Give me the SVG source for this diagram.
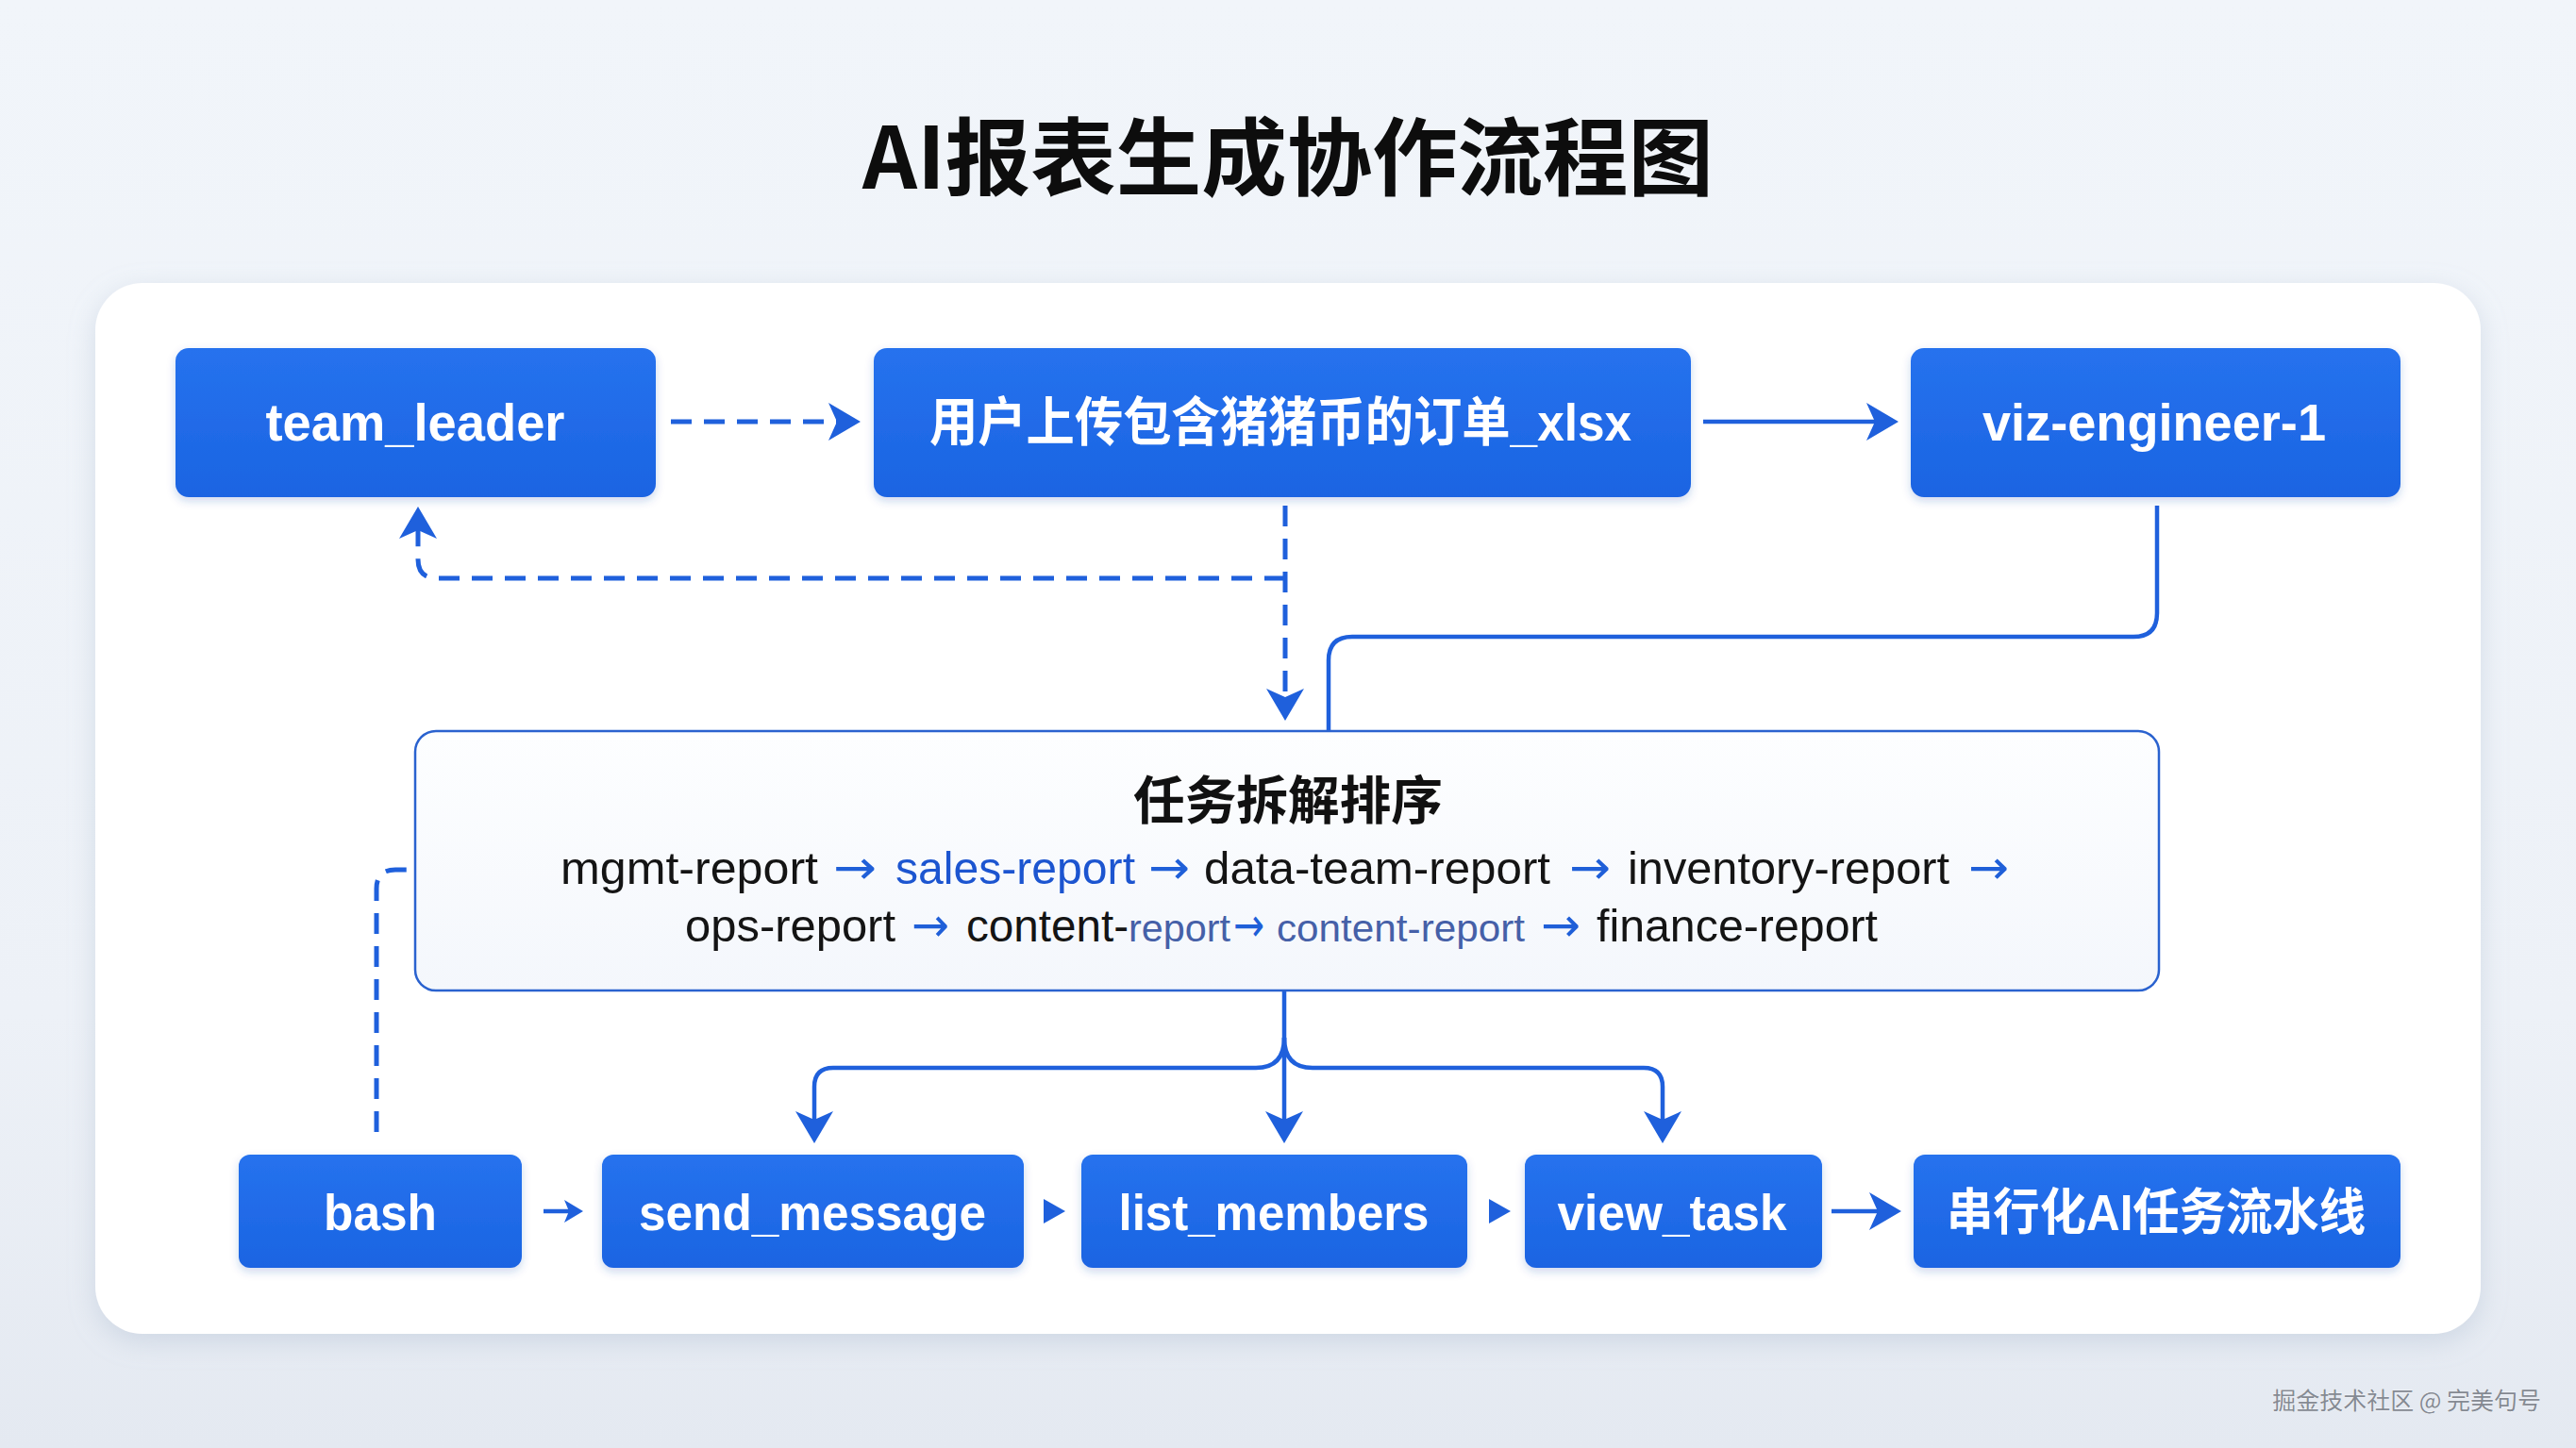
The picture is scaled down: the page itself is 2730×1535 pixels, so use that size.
<svg xmlns="http://www.w3.org/2000/svg" width="2730" height="1535" viewBox="0 0 2730 1535">
<defs>
<linearGradient id="bg" x1="0" y1="0" x2="0" y2="1">
<stop offset="0" stop-color="#f1f5fa"/>
<stop offset="0.7" stop-color="#edf1f7"/>
<stop offset="1" stop-color="#e4e9f1"/>
</linearGradient>
<linearGradient id="blue" x1="0" y1="0" x2="0" y2="1">
<stop offset="0" stop-color="#2672ee"/>
<stop offset="1" stop-color="#1b64e2"/>
</linearGradient>
<linearGradient id="panel" x1="0" y1="0" x2="0" y2="1">
<stop offset="0" stop-color="#fdfeff"/>
<stop offset="1" stop-color="#f4f7fc"/>
</linearGradient>
<filter id="cardShadow" x="-5%" y="-5%" width="110%" height="115%">
<feDropShadow dx="0" dy="8" stdDeviation="14" flood-color="#9fb0c8" flood-opacity="0.35"/>
</filter>
<filter id="boxShadow" x="-10%" y="-10%" width="120%" height="130%">
<feDropShadow dx="0" dy="4" stdDeviation="5" flood-color="#1b4fb0" flood-opacity="0.22"/>
</filter>
<marker id="ah" markerUnits="userSpaceOnUse" viewBox="0 0 34 40" markerWidth="34" markerHeight="40" refX="14" refY="20" orient="auto">
<path d="M0,0 L34,20 L0,40 L9,20 Z" fill="#1f60dc"/>
</marker>
<marker id="ahs" markerUnits="userSpaceOnUse" viewBox="0 0 20 24" markerWidth="20" markerHeight="24" refX="8" refY="12" orient="auto">
<path d="M0,0 L20,12 L0,24 L5,12 Z" fill="#1f60dc"/>
</marker>
<style>
.node rect.b { fill: url(#blue); filter: url(#boxShadow); }
.lbl { font-family: "Liberation Sans", "Noto Sans CJK SC", sans-serif; font-weight: 700; fill: #ffffff; text-anchor: middle; }
.top { font-size: 56px; }
.bot { font-size: 53px; }
.ln { fill: none; stroke: #1f60dc; stroke-width: 4.5; stroke-linejoin: round; }
.dash { stroke-dasharray: 22 13; stroke-width: 5; }
.seq { font-family: "Liberation Sans", "DejaVu Sans", sans-serif; font-size: 48px; fill: #141414; }
.arr { font-family: "DejaVu Sans", sans-serif; font-size: 50px; fill: #1f5fd8; }
.hl { fill: #1c55d0; }
.sm { font-size: 41px; fill: #4560a8; }
</style>
</defs>

<rect x="0" y="0" width="2730" height="1535" fill="url(#bg)"/>

<text x="1365" y="200" text-anchor="middle" font-family="Noto Sans CJK SC, sans-serif" font-weight="700" font-size="90" fill="#0d0d0d" textLength="902" lengthAdjust="spacingAndGlyphs">AI报表生成协作流程图</text>

<rect id="card" x="101" y="300" width="2528" height="1114" rx="50" fill="#ffffff" filter="url(#cardShadow)"/>

<g id="connectors">
<path class="ln dash" d="M711,447 L892,447" marker-end="url(#ah)"/>
<path class="ln" d="M1805,447 L1992,447" marker-end="url(#ah)"/>
<path class="ln dash" d="M1362,536 L1362,744" marker-end="url(#ah)"/>
<path class="ln dash" d="M1362,613 L463,613 Q443,613 443,593 L443,557" marker-end="url(#ah)"/>
<path class="ln" d="M2286,536 L2286,650 Q2286,675 2261,675 L1433,675 Q1408,675 1408,700 L1408,774"/>
<path class="ln dash" d="M399,1200 L399,942 Q399,922 419,922 L440,922"/>
<path class="ln" d="M1361,1050 L1361,1192" marker-end="url(#ah)"/>
<path class="ln" d="M1361,1100 Q1361,1132 1331,1132 L883,1132 Q863,1132 863,1152 L863,1192" marker-end="url(#ah)"/>
<path class="ln" d="M1361,1100 Q1361,1132 1391,1132 L1742,1132 Q1762,1132 1762,1152 L1762,1192" marker-end="url(#ah)"/>
<path class="ln" d="M576,1284 L606,1284" marker-end="url(#ahs)"/>
<path d="M1106,1271 L1129,1284 L1106,1297 Z" fill="#1f60dc"/>
<path d="M1578,1271 L1601,1284 L1578,1297 Z" fill="#1f60dc"/>
<path class="ln" d="M1941,1284 L1995,1284" marker-end="url(#ah)"/>
</g>

<g id="team_leader" class="node">
<rect class="b" x="186" y="369" width="509" height="158" rx="14"/>
<text class="lbl top" x="440" y="467" textLength="317" lengthAdjust="spacingAndGlyphs">team_leader</text>
</g>
<g id="upload" class="node">
<rect class="b" x="926" y="369" width="866" height="158" rx="14"/>
<text class="lbl top" x="1357" y="467" font-size="52" textLength="744" lengthAdjust="spacingAndGlyphs">用户上传包含猪猪币的订单_xlsx</text>
</g>
<g id="viz_engineer" class="node">
<rect class="b" x="2025" y="369" width="519" height="158" rx="14"/>
<text class="lbl top" x="2283" y="467" textLength="364" lengthAdjust="spacingAndGlyphs">viz-engineer-1</text>
</g>

<g id="task_sort" class="node">
<rect x="440" y="775" width="1848" height="275" rx="22" fill="url(#panel)" stroke="#2a62cf" stroke-width="2.5"/>
<text x="1365" y="868" text-anchor="middle" font-family="Noto Sans CJK SC, sans-serif" font-weight="700" font-size="55" fill="#111111" textLength="328" lengthAdjust="spacingAndGlyphs">任务拆解排序</text>
<text class="seq" y="937">
<tspan x="594" textLength="273" lengthAdjust="spacingAndGlyphs">mgmt-report</tspan>
<tspan class="arr" x="883" textLength="46" lengthAdjust="spacingAndGlyphs">→</tspan>
<tspan class="hl" x="949" textLength="254" lengthAdjust="spacingAndGlyphs">sales-report</tspan>
<tspan class="arr" x="1217" textLength="44" lengthAdjust="spacingAndGlyphs">→</tspan>
<tspan x="1276" textLength="367" lengthAdjust="spacingAndGlyphs">data-team-report</tspan>
<tspan class="arr" x="1663" textLength="44" lengthAdjust="spacingAndGlyphs">→</tspan>
<tspan x="1725" textLength="341" lengthAdjust="spacingAndGlyphs">inventory-report</tspan>
<tspan class="arr" x="2086" textLength="43" lengthAdjust="spacingAndGlyphs">→</tspan>
</text>
<text class="seq" y="998">
<tspan x="726" textLength="223" lengthAdjust="spacingAndGlyphs">ops-report</tspan>
<tspan class="arr" x="966" textLength="40" lengthAdjust="spacingAndGlyphs">→</tspan>
<tspan x="1024" textLength="172" lengthAdjust="spacingAndGlyphs">content-</tspan>
<tspan class="sm" x="1196" textLength="108" lengthAdjust="spacingAndGlyphs">report</tspan>
<tspan class="arr" x="1307" font-size="36" fill="#3f62b8" textLength="33" lengthAdjust="spacingAndGlyphs">→</tspan>
<tspan class="sm" x="1353" textLength="263" lengthAdjust="spacingAndGlyphs">content-report</tspan>
<tspan class="arr" x="1633" textLength="42" lengthAdjust="spacingAndGlyphs">→</tspan>
<tspan x="1692" textLength="298" lengthAdjust="spacingAndGlyphs">finance-report</tspan>
</text>
</g>

<g id="bash" class="node">
<rect class="b" x="253" y="1224" width="300" height="120" rx="12"/>
<text class="lbl bot" x="403" y="1304" textLength="120" lengthAdjust="spacingAndGlyphs">bash</text>
</g>
<g id="send_message" class="node">
<rect class="b" x="638" y="1224" width="447" height="120" rx="12"/>
<text class="lbl bot" x="861" y="1304" textLength="368" lengthAdjust="spacingAndGlyphs">send_message</text>
</g>
<g id="list_members" class="node">
<rect class="b" x="1146" y="1224" width="409" height="120" rx="12"/>
<text class="lbl bot" x="1350" y="1304" textLength="329" lengthAdjust="spacingAndGlyphs">list_members</text>
</g>
<g id="view_task" class="node">
<rect class="b" x="1616" y="1224" width="315" height="120" rx="12"/>
<text class="lbl bot" x="1772" y="1304" textLength="243" lengthAdjust="spacingAndGlyphs">view_task</text>
</g>
<g id="pipeline" class="node">
<rect class="b" x="2028" y="1224" width="516" height="120" rx="12"/>
<text class="lbl bot" x="2285" y="1304" font-size="50" textLength="444" lengthAdjust="spacingAndGlyphs">串行化AI任务流水线</text>
</g>

<text x="2693" y="1494" text-anchor="end" font-family="Noto Sans CJK SC, sans-serif" font-size="25" fill="#858a93" stroke="#ffffff" stroke-width="0.6" paint-order="stroke">掘金技术社区 @ 完美句号</text>
</svg>
